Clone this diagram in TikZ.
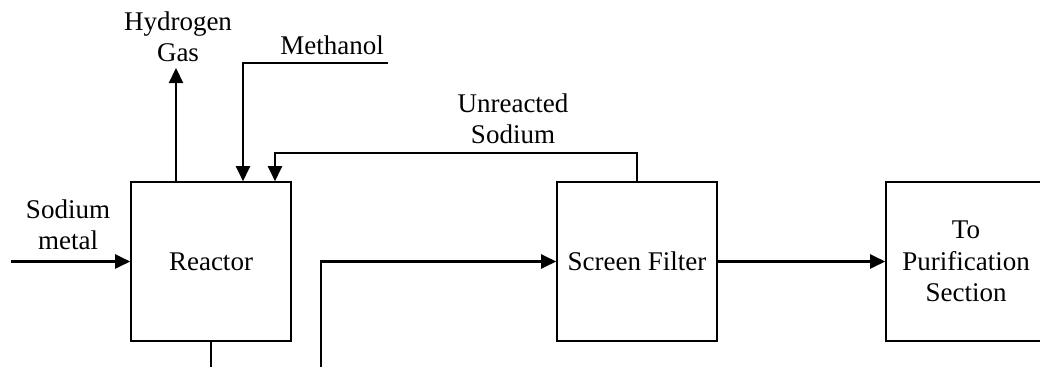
\documentclass[tikz,border=0pt]{standalone}
\usepackage{fontspec}
\setmainfont{Liberation Serif}
\usetikzlibrary{arrows.meta}
\begin{document}
\begin{tikzpicture}[x=1pt,y=-1pt,
  font=\fontsize{27}{31.5}\selectfont,
  unit/.style={draw, line width=1.6pt, minimum width=160pt, minimum height=159pt,
               inner sep=0pt, align=center},
  flow/.style={line width=2.2pt, -{Triangle[length=15pt,width=14pt]}},
  pipe/.style={line width=2.2pt},
  lbl/.style={align=center, inner sep=0pt}]
\useasboundingbox (0,0) rectangle (1040,367);
\clip (0,0) rectangle (1040,367);

% process units
\node[unit] (reactor) at (211,261.5) {Reactor};
\node[unit] (filter)  at (637,261.5) {Screen Filter};
\node[unit] (purif)   at (966,261.5) {To\\Purification\\Section};

% stream labels
\node[lbl] (h2lbl)   at (178,37)  {Hydrogen\\Gas};
\node[lbl] (meohlbl) at (332,45)  {Methanol};
\node[lbl] (unlbl)   at (513,119) {Unreacted\\Sodium};
\node[lbl] (nalbl)   at (68,225)  {Sodium\\metal};

% free ends of streams
\coordinate (naIn)  at (11,261.5);
\coordinate (h2Out) at (176,68);
\coordinate (meoh)  at (388,63);
\coordinate (meohC) at (243,63);
\coordinate (recyC) at (275,153);
\coordinate (rBot)  at (211,367);
\coordinate (fBot)  at (321,367);

% streams
\draw[flow] (naIn) -- (reactor.west);
\draw[flow] (reactor.north -| h2Out) -- (h2Out);
\draw[flow] (meoh) -- (meohC) -- (meohC |- reactor.north);
\draw[flow] (filter.north) |- (recyC) -- (recyC |- reactor.north);
\draw[pipe] (reactor.south) -- (rBot);
\draw[flow] (fBot) |- (filter.west);
\draw[flow] (filter.east) -- (purif.west);
\end{tikzpicture}
\end{document}
